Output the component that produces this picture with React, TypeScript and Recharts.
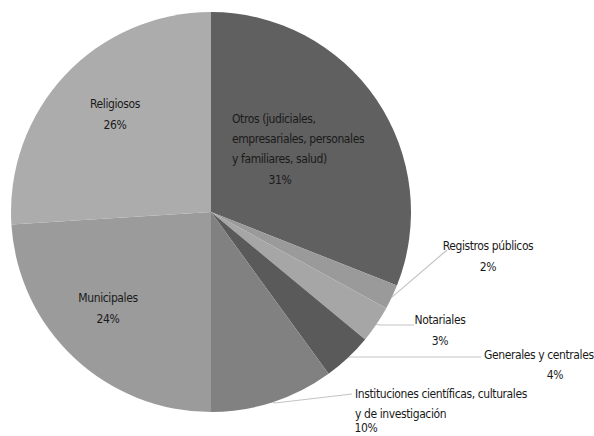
import { Cell, Pie, PieChart } from 'recharts'

const NAMES = [
  'Otros',
  'Registros públicos',
  'Notariales',
  'Generales y centrales',
  'Instituciones',
  'Municipales',
  'Religiosos',
]
const VALUES = [31, 2, 3, 4, 10, 24, 26]
const LABEL_LINES = [
  ['Otros (judiciales,', 'empresariales, personales', 'y familiares, salud)'],
  ['Registros públicos'],
  ['Notariales'],
  ['Generales y centrales'],
  ['Instituciones científicas, culturales', 'y de investigación'],
  ['Municipales'],
  ['Religiosos'],
]
const COLORS = ['#606060', '#9a9a9a', '#a6a6a6', '#5a5a5a', '#818181', '#9b9b9b', '#acacac']

const data = NAMES.map((name, i) => ({ name, value: VALUES[i], lines: LABEL_LINES[i] }))

// label layout: inside = text block, outside = elbow of leader line + text block
type LabelPos = {
  inside?: boolean
  x: number
  y: number
  anchor: 'start' | 'middle' | 'end'
  pctX?: number
  pctDy?: number
  elbow?: [number, number]
  end?: [number, number]
}
const LABEL_POS: Record<string, LabelPos> = {
  Otros: { inside: true, x: 232, y: 123, anchor: 'start', pctX: 280, pctDy: 1 },
  'Registros públicos': { x: 488, y: 250, anchor: 'middle', elbow: [447, 250], end: [447, 250], pctDy: 1 },
  Notariales: { x: 440, y: 324, anchor: 'middle', elbow: [380, 325], end: [414, 325], pctDy: 1 },
  'Generales y centrales': { x: 484, y: 359, anchor: 'start', pctX: 555, pctDy: 0, elbow: [350, 357], end: [481, 357] },
  Instituciones: { x: 355, y: 398, anchor: 'start', pctX: 366, pctDy: -6, elbow: [275, 403], end: [352, 394] },
  Municipales: { inside: true, x: 108, y: 302, anchor: 'middle', pctDy: 1 },
  Religiosos: { inside: true, x: 115, y: 108, anchor: 'middle', pctDy: 1 },
}

const FONT = '"DejaVu Sans Condensed", "DejaVu Sans", sans-serif'
const RAD = Math.PI / 180

function renderLabel(props: any) {
  const { cx, cy, midAngle, outerRadius, name, value, index } = props
  const pos = LABEL_POS[name]
  const lines: string[] = data[index].lines
  const lineH = 20
  const rimX = cx + outerRadius * Math.cos(-midAngle * RAD)
  const rimY = cy + outerRadius * Math.sin(-midAngle * RAD)
  const pctX = pos.pctX ?? pos.x
  const pctAnchor = pos.pctX !== undefined ? 'middle' : pos.anchor
  const textStyle = { fontStretch: 'condensed', letterSpacing: '-0.4px' } as any
  return (
    <g key={`label-${index}`}>
      {!pos.inside && pos.elbow && pos.end && (
        <polyline
          points={`${rimX},${rimY} ${pos.elbow[0]},${pos.elbow[1]} ${pos.end[0]},${pos.end[1]}`}
          fill="none"
          stroke="#c4c4c4"
          strokeWidth={1.2}
        />
      )}
      {lines.map((t, i) => (
        <text
          key={i}
          x={pos.x}
          y={pos.y + i * lineH}
          textAnchor={pos.anchor}
          fill="#1a1a1a"
          fontSize={12}
          fontFamily={FONT}
          style={textStyle}
        >
          {t}
        </text>
      ))}
      <text
        x={pctX}
        y={pos.y + lines.length * lineH + (pos.pctDy ?? 0)}
        textAnchor={pctAnchor}
        fill="#1a1a1a"
        fontSize={12}
        fontFamily={FONT}
        style={textStyle}
      >
        {`${value}%`}
      </text>
    </g>
  )
}

export default function App() {
  return (
    <div style={{ position: 'absolute', left: 0, top: 0, width: 594, height: 436, background: '#fff' }}>
      <PieChart width={594} height={436} margin={{ top: 0, right: 0, bottom: 0, left: 0 }}>
        <Pie
          data={data}
          dataKey="value"
          nameKey="name"
          cx={211}
          cy={212}
          outerRadius={200}
          startAngle={90}
          endAngle={-270}
          stroke="none"
          label={renderLabel}
          labelLine={false}
          isAnimationActive={false}
        >
          {data.map((_, i) => (
            <Cell key={`cell-${i}`} fill={COLORS[i]} />
          ))}
        </Pie>
      </PieChart>
    </div>
  )
}
